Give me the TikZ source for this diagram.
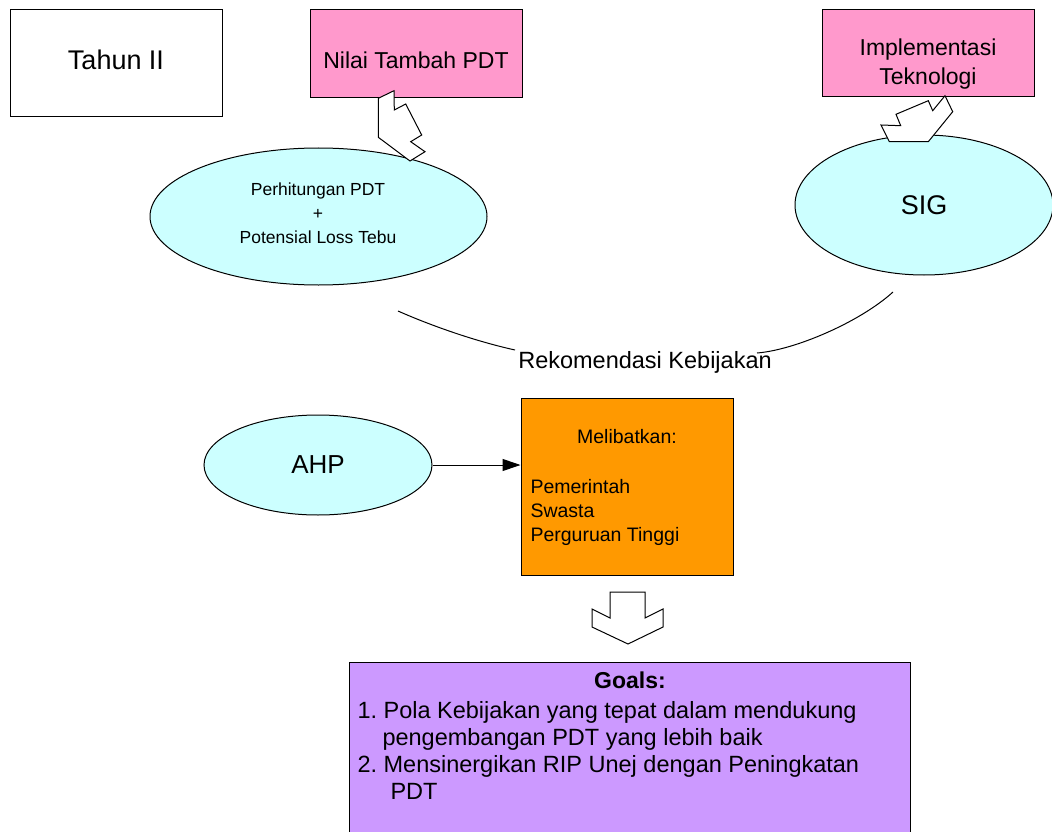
\documentclass[tikz,border=0pt]{standalone}
\usepackage{fontspec}
\setmainfont{Liberation Sans}
\frenchspacing
\usetikzlibrary{shapes.geometric,arrows.meta,positioning}
\definecolor{pinkbox}{HTML}{FF99CC}
\definecolor{cyanoval}{HTML}{CCFFFF}
\definecolor{orangebox}{HTML}{FF9900}
\definecolor{purplebox}{HTML}{CC99FF}
\begin{document}
\begin{tikzpicture}[x=1pt, y=-1pt, line width=1pt,
	box/.style = {draw, rectangle, minimum width=212pt, inner sep=0pt},
	oval/.style = {draw, ellipse, fill=cyanoval, inner sep=0pt},
	blok/.style = {draw, fill=white, line join=miter},
	txt/.style = {inner sep=0pt, align=center}]
	\useasboundingbox (0,0) rectangle (1052,832);
	\node[box, minimum height=107pt] (tahun) at (116,63.5) {};
	\node[box, fill=pinkbox, minimum height=88pt] (nilai) at (416,54) {};
	\node[box, fill=pinkbox, minimum height=87pt] (impl) at (928,53.5) {};
	\node[oval, minimum width=337pt, minimum height=137pt] (hitung) at (318.5,216.5) {};
	\node[oval, minimum width=258pt, minimum height=140pt] (sig) at (924,205) {};
	\node[oval, minimum width=228pt, minimum height=100pt] (ahp) at (318,465) {};
	\node[box, fill=orangebox, minimum height=177pt] (pihak) at (627,486.5) {};
	\node[box, fill=purplebox, minimum width=561pt, minimum height=190pt] (goals) at (629.5,757) {};
	\node[txt, font=\fontsize{27}{32}\selectfont] (tahuntxt) at (116,60) {Tahun II};
	\node[txt, font=\fontsize{23}{29}\selectfont] (nilaitxt) at (416,60) {Nilai Tambah PDT};
	\node[txt, font=\fontsize{23}{29}\selectfont] (impltxt) at (928,64) {Implementasi\\Teknologi};
	\node[txt, font=\fontsize{17.5}{24}\selectfont] (hitungtxt) at (318,213) {Perhitungan PDT\\+\\Potensial Loss Tebu};
	\node[txt, font=\fontsize{27}{32}\selectfont] (sigtxt) at (sig) {SIG};
	\node[txt, font=\fontsize{26}{32}\selectfont] (ahptxt) at (ahp) {AHP};
	\node[txt, font=\fontsize{23.5}{28}\selectfont] (rek) at (645,362) {Rekomendasi Kebijakan};
	\node[txt, font=\fontsize{19.5}{24}\selectfont] (melib) at (627,437) {Melibatkan:};
	\node[txt, align=left, anchor=west, font=\fontsize{19.5}{24}\selectfont] (pihaktxt) at (530,512) {Pemerintah\\Swasta\\Perguruan Tinggi};
	\node[txt, font=\bfseries\fontsize{23}{27}\selectfont] (goalstxt) at (630,680) {Goals:};
	\node[txt, align=left, anchor=west, font=\fontsize{23.5}{27}\selectfont] (goallist) at (357,750) {1. Pola Kebijakan yang tepat dalam mendukung\\\hspace*{25pt}pengembangan PDT yang lebih baik\\2. Mensinergikan RIP Unej dengan Peningkatan\\\hspace*{33pt}PDT};
	\coordinate (rl1) at (398,311);
	\coordinate (rl2) at (515,350);
	\coordinate (rr1) at (757,353);
	\coordinate (rr2) at (893,292);
	\draw (rl1) .. controls (425,323) and (470,340) .. (rl2);
	\draw (rr1) .. controls (795,350) and (860,322) .. (rr2);
	\draw[-{Triangle[length=18pt,width=12pt]}] (ahp.east) -- (ahp.east -| pihak.west);
	\draw[blok] (378.3,98.3) -- (394,90.7) -- (394.3,110) -- (405.7,104) -- (421.7,135) -- (410.7,141.7) -- (425,151.7) -- (410,161) -- (378.3,137.3) -- cycle;
	\draw[blok] (945,95.7) -- (952.7,111.7) -- (928.3,141.7) -- (889.3,141.7) -- (881,125) -- (900.7,125.7) -- (896,114.3) -- (928.3,100.7) -- (932.7,110.7) -- cycle;
	\draw[blok] (610,592) -- (645,592) -- (645,618) -- (663,609) -- (663,627) -- (628,644) -- (592,627) -- (592,609) -- (610,618) -- cycle;
\end{tikzpicture}
\end{document}
